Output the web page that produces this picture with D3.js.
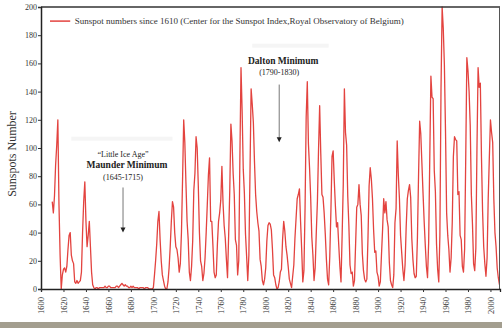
<!DOCTYPE html>
<html><head><meta charset="utf-8">
<script src="https://cdn.jsdelivr.net/npm/d3@7"></script>
<style>
html,body{margin:0;padding:0;background:#fff;}
svg{display:block;font-family:"Liberation Serif","Times New Roman",serif;}
</style></head>
<body>
<svg id="chart" width="502" height="328"></svg>
<script>
// ---- data ----
const firstYear = 1610;
const sunspots = [
 62,54,66,88,102,120,60,24,0,10, 14,15,12,16,28,38,40,24,20,18,
 5,4,6,4,5,6,12,40,62,76, 48,30,38,48,30,12,3,1,0,1,
 1,0,1,1,1,1,1,2,1,1, 2,2,1,1,1,1,1,2,2,1,
 2,3,4,3,2,3,2,2,1,1, 2,1,2,1,1,1,1,0,1,1,
 1,1,0,1,1,1,0,0,0,0,
 1,10,20,32,48,55,35,20,10,6, 2,0,0,5,15,30,48,62,58,40,
 30,28,22,12,18,40,78,120,104,75, 48,35,12,6,16,34,70,82,108,100,
 73,40,20,16,6,11,22,40,60,81,
 93,48,48,31,12,8,10,32,48,54, 63,87,61,45,36,21,8,38,70,117,
 105,82,67,35,31,10,20,93,157,126, 85,68,39,23,6,24,83,142,131,118,
 90,67,55,47,41,21,16,6,3,7, 15,34,45,47,46,42,28,10,8,3,
 0,1,5,12,14,35,48,41,30,24, 16,7,4,1,9,17,36,50,64,67,
 71,48,28,5,13,57,122,147,103,86, 65,37,24,6,15,40,62,99,130,96,
 67,65,54,39,21,7,3,23,55,94, 98,77,59,44,47,31,16,5,38,74,
 142,111,102,66,45,17,11,12,2,6, 32,58,60,74,60,52,25,13,7,5,
 7,36,73,86,78,64,42,26,27,12, 9,2,5,24,42,64,54,62,49,44,
 19,6,3,1,10,47,57,105,81,64, 38,26,14,6,17,44,64,70,74,65,
 36,21,11,8,9,36,80,119,110,89, 68,48,31,16,8,33,93,151,136,135,
 84,69,32,14,5,38,142,200,185,159, 112,54,38,28,12,22,47,94,108,106,
 105,67,69,38,35,16,12,28,93,164, 155,140,116,67,46,18,13,29,100,157,
 143,146,94,55,30,18,9,22,64,93, 120,111,104,64,40,30,15,8,3
];
const xTicks = [1600,1620,1640,1660,1680,1700,1720,1740,1760,1780,1800,1820,1840,1860,1880,1900,1920,1940,1960,1980,2000];
const yTicks = [0,20,40,60,80,100,120,140,160,180,200];
const legendLabel = "Sunspot numbers since 1610 (Center for the Sunspot Index,Royal Observatory of Belgium)";
const yTitle = "Sunspots Number";
const notes = [
  {lines:["\u201CLittle Ice Age\u201D","Maunder Minimum","(1645-1715)"], year:1673, textTop:96, from:72, to:40},
  {lines:["Dalton Minimum","(1790-1830)"], year:1812, textTop:162, from:145, to:104}
];

// ---- layout ----
const W = 502, H = 328;
const m = {left:41, right:2, top:7, bottom:39};
const svg = d3.select("#chart");
const x = d3.scaleLinear().domain([1600, 2008.5]).range([m.left, W - m.right]);
const y = d3.scaleLinear().domain([0, 200]).range([H - m.bottom, m.top]);

svg.append("rect").attr("x",0).attr("y",322).attr("width",W).attr("height",6).attr("fill","#a39e8f");

// faint ghost bands
svg.append("rect").attr("x",x(1627)).attr("y",y(108)).attr("width",x(1717)-x(1627)).attr("height",4).attr("fill","#f5f5f5");
svg.append("rect").attr("x",x(1788)).attr("y",y(174)).attr("width",x(1856)-x(1788)).attr("height",4).attr("fill","#f5f5f5");

// line
const data = sunspots.map((v,i)=>({year:firstYear+i, v}));
svg.append("path").datum(data)
  .attr("fill","none").attr("stroke","#e3433f").attr("stroke-width",1.3)
  .attr("stroke-linejoin","round")
  .attr("d", d3.line().x(d=>x(d.year)).y(d=>y(d.v)));

// frame
svg.append("line").attr("x1",x(1600)).attr("x2",x.range()[1]).attr("y1",y(200)).attr("y2",y(200)).attr("stroke","#333").attr("stroke-width",1.3);
svg.append("line").attr("x1",x.range()[1]-0.5).attr("x2",x.range()[1]-0.5).attr("y1",y(200)).attr("y2",y(0)).attr("stroke","#555").attr("stroke-width",1);

// axes
const ya = svg.append("g").attr("transform",`translate(${m.left},0)`)
  .call(d3.axisLeft(y).tickValues(yTicks).tickSize(3).tickPadding(1).tickFormat(d3.format("d")));
ya.selectAll("text").attr("font-size",8).attr("fill","#333").attr("font-family","Liberation Serif");
ya.select(".domain").attr("stroke","#222").attr("stroke-width",1.5);
ya.selectAll(".tick line").attr("stroke","#333");

const xa = svg.append("g").attr("transform",`translate(0,${y(0)})`)
  .call(d3.axisBottom(x).tickValues(xTicks).tickSize(3).tickFormat(d3.format("d")));
xa.select(".domain").attr("stroke","#222").attr("stroke-width",1.3);
xa.selectAll(".tick line").attr("stroke","#333");
xa.selectAll("text").attr("font-size",8.5).attr("fill","#333").attr("font-family","Liberation Serif")
  .attr("transform","rotate(-90)").attr("x",-8).attr("y",0).attr("dy","0.32em").style("text-anchor","end");

// y title
svg.append("text").attr("transform",`translate(16,${(y(0)+y(200))/2 + 6}) rotate(-90)`)
  .attr("text-anchor","middle").attr("font-size",12).attr("fill","#333").text(yTitle);

// legend
svg.append("line").attr("x1",x(1608)).attr("x2",x(1626)).attr("y1",y(190)).attr("y2",y(190))
  .attr("stroke","#e3433f").attr("stroke-width",1.5);
svg.append("text").attr("x",x(1630)).attr("y",y(190)+3).attr("font-size",9).attr("fill","#333").text(legendLabel);

// annotations
notes.forEach(n=>{
  const cx = x(n.year);
  const g = svg.append("g");
  n.lines.forEach((t,i)=>{
    const bold = /Minimum/.test(t);
    g.append("text").attr("x", cx + (bold?4:0)).attr("y", y(n.textTop) + 3 + i*11.5)
      .attr("text-anchor","middle").attr("font-size", bold?9.5:8)
      .attr("font-weight", bold?"bold":"normal").attr("fill","#222").text(t);
  });
  g.append("line").attr("x1",cx).attr("x2",cx).attr("y1",y(n.from)).attr("y2",y(n.to)-4)
    .attr("stroke","#777").attr("stroke-width",1);
  const ty = y(n.to);
  g.append("path").attr("d",`M${cx-2.5},${ty-5}L${cx+2.5},${ty-5}L${cx},${ty}Z`).attr("fill","#222");
});
</script>
</body></html>
